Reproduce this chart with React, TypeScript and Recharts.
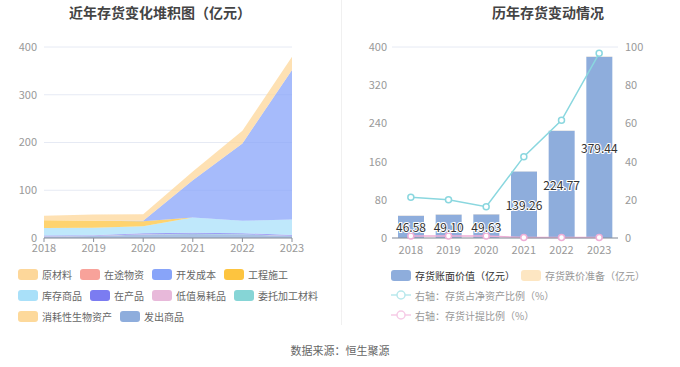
import {
  AreaChart,
  Area,
  ComposedChart,
  Bar,
  Line,
  LabelList,
  XAxis,
  YAxis,
  CartesianGrid,
} from 'recharts';

const years = ['2018', '2019', '2020', '2021', '2022', '2023'];

// 左图：存货构成（亿元）
const rawMaterials = [9.6, 13.1, 13.6, 18.3, 26.8, 27.4];
const inTransit = [0, 0, 0, 0, 0, 0];
const devCost = [0, 0, 0.8, 78, 162, 313.5];
const construction = [16, 14.5, 10.5, 0, 0, 0];
const merchandise = [16, 15.5, 15, 32, 26, 32];
const wip = [1.5, 1.5, 2, 2, 2, 2];
const lowValue = [0.3, 0.3, 0.3, 0.3, 0.3, 0.3];
const consignment = [0.2, 0.2, 0.2, 0.2, 0.2, 0.2];
const biological = [0, 0, 0, 0, 0, 0];
const goodsIssued = [3, 4, 7.2, 8.5, 7.5, 4];

// 右图
const bookValue = [46.58, 49.1, 49.63, 139.26, 224.77, 379.44];
const impairment = [0.5, 0.6, 0.6, 0.3, 0.4, 0.5];
const ratioNetAssets = [21.3, 20.0, 16.4, 42.6, 61.6, 96.7];
const provisionRatio = [1.0, 1.1, 1.1, 0.2, 0.2, 0.2];

const leftTicks = [0, 100, 200, 300, 400];
const rightLeftTicks = [0, 80, 160, 240, 320, 400];
const rightRightTicks = [0, 20, 40, 60, 80, 100];

const stackSeries = [
  { key: 'rawMaterials', name: '原材料', color: '#fdd79a', values: rawMaterials },
  { key: 'inTransit', name: '在途物资', color: '#f8a29a', values: inTransit },
  { key: 'devCost', name: '开发成本', color: '#88a4f9', values: devCost },
  { key: 'construction', name: '工程施工', color: '#fdc43f', values: construction },
  { key: 'merchandise', name: '库存商品', color: '#a9e0f9', values: merchandise },
  { key: 'wip', name: '在产品', color: '#7b7cf1', values: wip },
  { key: 'lowValue', name: '低值易耗品', color: '#e8b9da', values: lowValue },
  { key: 'consignment', name: '委托加工材料', color: '#86d5d6', values: consignment },
  { key: 'biological', name: '消耗性生物资产', color: '#fdd99b', values: biological },
  { key: 'goodsIssued', name: '发出商品', color: '#8eaddc', values: goodsIssued },
];

const stackData = years.map((year, i) => {
  const row: Record<string, number | string> = { year };
  stackSeries.forEach((s) => {
    row[s.key] = s.values[i];
  });
  return row;
});

const inventoryData = years.map((year, i) => ({
  year,
  bookValue: bookValue[i],
  impairment: impairment[i],
  ratioNetAssets: ratioNetAssets[i],
  provisionRatio: provisionRatio[i],
}));

const FONT = '"Noto Sans CJK SC", "Noto Sans", sans-serif';
const axisTick = { fontSize: 11, fill: '#999' };

function Swatch({ color }: { color: string }) {
  return (
    <span
      style={{
        display: 'inline-block',
        width: 20,
        height: 11,
        borderRadius: 3,
        background: color,
        marginRight: 4,
        flexShrink: 0,
      }}
    />
  );
}

function LineIcon({ color }: { color: string }) {
  return (
    <svg width={20} height={12} style={{ marginRight: 4, flexShrink: 0 }}>
      <line x1={0} y1={6} x2={20} y2={6} stroke={color} strokeWidth={1.5} />
      <circle cx={10} cy={6} r={4} fill="#fff" stroke={color} strokeWidth={1.5} />
    </svg>
  );
}

const barLabel = (props: any) => {
  const { x, y, width, height, value } = props;
  return (
    <text
      x={x + width / 2}
      y={y + height / 2}
      textAnchor="middle"
      dominantBaseline="central"
      fontSize={12}
      fill="#333"
      stroke="#fff"
      strokeWidth={2}
      paintOrder="stroke"
      fontFamily={FONT}
    >
      {Number(value).toFixed(2)}
    </text>
  );
};

export default function App() {
  const legendRows = [stackSeries.slice(0, 4), stackSeries.slice(4, 8), stackSeries.slice(8)];
  return (
    <div
      style={{
        position: 'absolute',
        left: 0,
        top: 0,
        width: 680,
        height: 367,
        background: '#fff',
        fontFamily: FONT,
      }}
    >
      <div
        style={{
          position: 'absolute',
          left: 0,
          top: 2,
          width: 320,
          textAlign: 'center',
          fontSize: 14,
          fontWeight: 'bold',
          color: '#444',
        }}
      >
        近年存货变化堆积图（亿元）
      </div>
      <div
        style={{
          position: 'absolute',
          left: 340,
          top: 2,
          width: 416,
          textAlign: 'center',
          fontSize: 14,
          fontWeight: 'bold',
          color: '#444',
        }}
      >
        历年存货变动情况
      </div>
      <div
        style={{
          position: 'absolute',
          left: 341,
          top: 0,
          width: 1,
          height: 325,
          background: '#f0f0f0',
        }}
      />

      <div style={{ position: 'absolute', left: 0, top: 0 }}>
        <AreaChart
          width={340}
          height={265}
          data={stackData}
          margin={{ top: 47, right: 48, bottom: 7, left: 0 }}
        >
          <CartesianGrid vertical={false} stroke="#e6eaf4" />
          <XAxis
            dataKey="year"
            tick={axisTick}
            axisLine={{ stroke: '#8a8f99' }}
            tickLine={{ stroke: '#8a8f99' }}
            tickSize={4}
            height={20}
          />
          <YAxis
            width={44}
            domain={[0, 400]}
            ticks={leftTicks}
            tick={axisTick}
            axisLine={false}
            tickLine={false}
            tickSize={0}
            tickMargin={7}
          />
          {[...stackSeries].reverse().map((s) => (
            <Area
              key={s.key}
              type="linear"
              dataKey={s.key}
              name={s.name}
              stackId="a"
              stroke="none"
              fill={s.color}
              fillOpacity={0.75}
              isAnimationActive={false}
            />
          ))}
        </AreaChart>
      </div>

      <div style={{ position: 'absolute', left: 18, top: 264, width: 322 }}>
        {legendRows.map((row, ri) => (
          <div
            key={ri}
            style={{ display: 'flex', alignItems: 'center', height: 21 }}
          >
            {row.map((s) => (
              <div
                key={s.key}
                style={{
                  display: 'flex',
                  alignItems: 'center',
                  marginRight: 8,
                  fontSize: 10,
                  color: '#666',
                  whiteSpace: 'nowrap',
                }}
              >
                <Swatch color={s.color} />
                {s.name}
              </div>
            ))}
          </div>
        ))}
      </div>

      <div style={{ position: 'absolute', left: 340, top: 0 }}>
        <ComposedChart
          width={340}
          height={265}
          data={inventoryData}
          margin={{ top: 47, right: 0, bottom: 7, left: 0 }}
        >
          <CartesianGrid vertical={false} stroke="#e6eaf4" />
          <XAxis
            dataKey="year"
            tick={axisTick}
            axisLine={{ stroke: '#8a8f99' }}
            tickLine={false}
            height={20}
          />
          <YAxis
            yAxisId="left"
            width={52}
            domain={[0, 400]}
            ticks={rightLeftTicks}
            tick={axisTick}
            axisLine={false}
            tickLine={false}
            tickSize={0}
            tickMargin={5}
          />
          <YAxis
            yAxisId="right"
            orientation="right"
            width={62}
            domain={[0, 100]}
            ticks={rightRightTicks}
            tick={{ ...axisTick, textAnchor: 'start' }}
            axisLine={false}
            tickLine={false}
            tickSize={0}
            tickMargin={7}
          />
          <Bar
            yAxisId="left"
            dataKey="bookValue"
            name="存货账面价值（亿元）"
            stackId="b"
            fill="#8eaddc"
            barSize={26}
            isAnimationActive={false}
          >
            <LabelList dataKey="bookValue" content={barLabel} />
          </Bar>
          <Bar
            yAxisId="left"
            dataKey="impairment"
            name="存货跌价准备（亿元）"
            stackId="b"
            fill="#fde6c2"
            barSize={26}
            isAnimationActive={false}
          />
          <Line
            yAxisId="right"
            type="linear"
            dataKey="ratioNetAssets"
            name="右轴：存货占净资产比例（%）"
            stroke="#8ad7df"
            strokeWidth={1.5}
            dot={{ r: 3, fill: '#fff', stroke: '#8ad7df', strokeWidth: 1.5 }}
            isAnimationActive={false}
          />
          <Line
            yAxisId="right"
            type="linear"
            dataKey="provisionRatio"
            name="右轴：存货计提比例（%）"
            stroke="#eeaed6"
            strokeWidth={1.5}
            dot={{ r: 3, fill: '#fff', stroke: '#eeaed6', strokeWidth: 1.5 }}
            isAnimationActive={false}
          />
        </ComposedChart>
      </div>

      <div style={{ position: 'absolute', left: 391, top: 265, fontSize: 10, whiteSpace: 'nowrap' }}>
        <div style={{ display: 'flex', alignItems: 'center', height: 20 }}>
          <div style={{ display: 'flex', alignItems: 'center', marginRight: 6, color: '#333' }}>
            <Swatch color="#8eaddc" />
            存货账面价值（亿元）
          </div>
          <div style={{ display: 'flex', alignItems: 'center', color: '#999' }}>
            <Swatch color="#fde6c2" />
            存货跌价准备（亿元）
          </div>
        </div>
        <div style={{ display: 'flex', alignItems: 'center', height: 20, color: '#999' }}>
          <LineIcon color="#b8e8ec" />
          右轴：存货占净资产比例（%）
        </div>
        <div style={{ display: 'flex', alignItems: 'center', height: 20, color: '#999' }}>
          <LineIcon color="#f6cbe6" />
          右轴：存货计提比例（%）
        </div>
      </div>

      <div
        style={{
          position: 'absolute',
          left: 0,
          top: 342,
          width: 680,
          textAlign: 'center',
          fontSize: 11,
          color: '#666',
        }}
      >
        数据来源：恒生聚源
      </div>
    </div>
  );
}
